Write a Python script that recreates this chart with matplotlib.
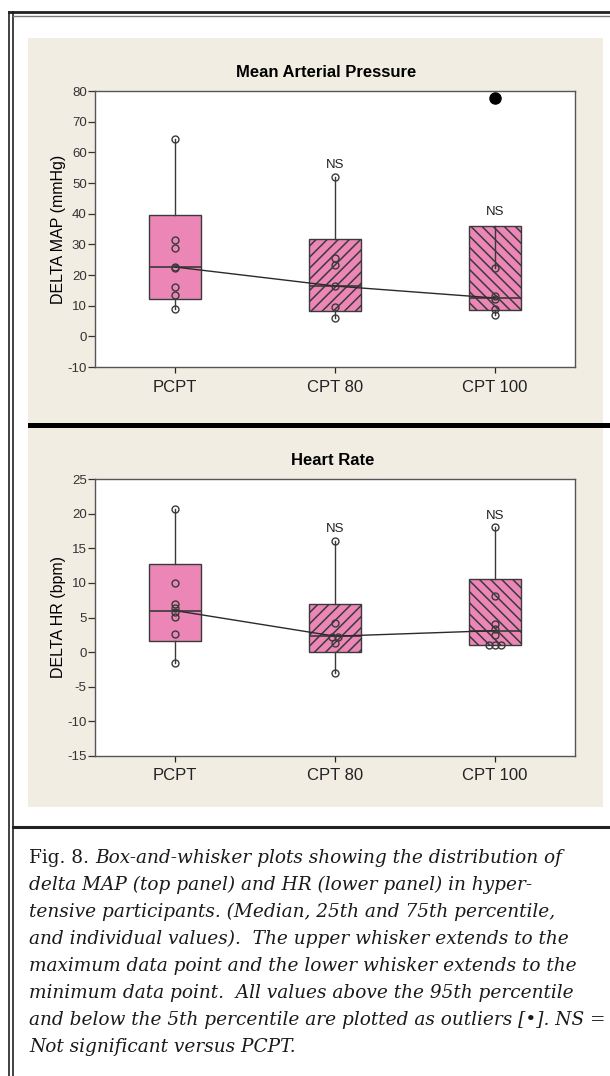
import matplotlib
matplotlib.use("Agg")
from matplotlib import pyplot as plt
from matplotlib.patches import Rectangle
from matplotlib.lines import Line2D

plt.rcParams['font.family'] = ['Liberation Sans', 'DejaVu Sans']
plt.rcParams['hatch.linewidth'] = 1.1
plt.rcParams['axes.unicode_minus'] = False

groups = ["PCPT", "CPT 80", "CPT 100"]

# delta MAP (mmHg): box stats per group
map_q1 = [12.2, 8.3, 8.6]
map_med = [22.6, 16.4, 12.5]
map_q3 = [39.6, 31.7, 36.0]
map_lo = [8.9, 5.9, 7.0]
map_hi = [64.3, 52.0, 22.3]
map_points = [[64.3, 31.4, 28.8, 22.6, 22.3, 16.1, 13.5, 8.9],
              [52.0, 25.5, 23.3, 16.5, 9.6, 5.9],
              [22.3, 13.0, 12.2, 9.0, 7.0]]
map_outliers = [[], [], [77.6]]
map_ns = [None, 56.0, 40.5]

# delta HR (bpm)
hr_q1 = [1.6, 0.0, 1.1]
hr_med = [6.0, 2.3, 3.1]
hr_q3 = [12.7, 7.0, 10.6]
hr_lo = [-1.5, -3.0, 1.0]
hr_hi = [20.6, 16.0, 18.0]
hr_points = [[20.6, 10.0, 7.0, 6.3, 5.8, 5.1, 2.6, -1.5],
             [16.0, 4.2, 2.2, 2.2, 1.3, -3.0],
             [18.0, 8.1, 4.0, 3.4, 2.5, 1.0, 1.0, 1.0]]
hr_outliers = [[], [], []]
hr_ns = [None, 17.8, 19.7]

caption_lines = [
    "delta MAP (top panel) and HR (lower panel) in hyper-",
    "tensive participants. (Median, 25th and 75th percentile,",
    "and individual values).  The upper whisker extends to the",
    "maximum data point and the lower whisker extends to the",
    "minimum data point.  All values above the 95th percentile",
    "and below the 5th percentile are plotted as outliers [\u2022]. NS =",
    "Not significant versus PCPT.",
]

PINK = "#ec86b7"
EDGE = "#3a3a3a"
hatches = [None, "///", "\\\\\\"]


def DrawPanel(ax, title, title_x, ylabel, q1, med, q3, lo, hi, points, outliers, ns,
              ylim, yticks):
    pos = [1, 2, 3]
    stats = []
    for i in range(3):
        stats.append({"q1": q1[i], "med": med[i], "q3": q3[i],
                      "whislo": lo[i], "whishi": hi[i], "fliers": []})
    bp = ax.bxp(stats, positions=pos, widths=0.33, patch_artist=True,
                showcaps=False, showfliers=False,
                boxprops=dict(facecolor=PINK, edgecolor=EDGE, linewidth=1.0),
                whiskerprops=dict(color=EDGE, linewidth=1.0),
                medianprops=dict(color=EDGE, linewidth=1.2))
    for patch, h in zip(bp["boxes"], hatches):
        if h:
            patch.set_hatch(h)
    for w in bp["whiskers"]:
        w.set_zorder(3)
    # line joining medians
    ax.plot(pos, med, color="#2a2a2a", linewidth=1.0, zorder=4)
    # individual values (equal values are set side by side)
    for i, vals in enumerate(points):
        seen = {}
        for v in vals:
            seen[v] = seen.get(v, 0) + 1
        done = {}
        for v in vals:
            n = seen[v]
            k = done.get(v, 0)
            done[v] = k + 1
            dx = 0.0 if n == 1 else (k - (n - 1) / 2.0) * 0.038
            ax.plot(pos[i] + dx, v, marker="o", markersize=5, mfc="none",
                    mec=EDGE, mew=1.0, linestyle="none", zorder=5)
        for v in outliers[i]:
            ax.plot(pos[i], v, marker="o", markersize=8, color="black",
                    linestyle="none", zorder=5)
        if ns[i] is not None:
            ax.text(pos[i], ns[i], "NS", ha="center", va="center",
                    fontsize=9.5, color="#222222")
    ax.set_xlim(0.5, 3.5)
    ax.set_ylim(*ylim)
    ax.set_yticks(yticks)
    ax.set_xticks(pos)
    ax.set_xticklabels(groups, fontsize=12)
    ax.tick_params(axis="y", labelsize=9.5, length=5, width=0.9, pad=1, colors="#333333")
    ax.tick_params(axis="x", length=4, width=0.9, pad=5, colors="#222222")
    ax.set_title(title, fontsize=12, fontweight="bold", pad=10, x=title_x)
    ax.set_ylabel(ylabel, fontsize=11.5, va="center")
    ax.yaxis.set_label_coords(-0.076, 0.5)
    ax.set_facecolor("white")
    for s in ax.spines.values():
        s.set_color("#555555")
        s.set_linewidth(1.0)


def main():
    fig = plt.figure(figsize=(6.1, 10.76), dpi=100)
    W, H = 610.0, 1076.0

    # beige panel behind the charts
    fig.patches.append(Rectangle((28 / W, 1 - 807 / H), 575 / W, 769 / H,
                                 transform=fig.transFigure, facecolor="#f1ede3",
                                 edgecolor="none", zorder=-2))
    # black separator between panels
    fig.patches.append(Rectangle((28 / W, 1 - 428 / H), 1 - 28 / W, 5 / H,
                                 transform=fig.transFigure, facecolor="black",
                                 edgecolor="none", zorder=-1))
    # frame lines
    for x in (9, 13):
        fig.lines.append(Line2D([x / W, x / W], [0, 1 - 12 / H], transform=fig.transFigure,
                                color="#333333", linewidth=1.3))
    fig.lines.append(Line2D([9 / W, 1], [1 - 12 / H, 1 - 12 / H], transform=fig.transFigure,
                            color="#222222", linewidth=2.0))
    fig.lines.append(Line2D([13 / W, 1], [1 - 16 / H, 1 - 16 / H], transform=fig.transFigure,
                            color="#777777", linewidth=1.0))
    fig.lines.append(Line2D([13 / W, 1], [1 - 827 / H, 1 - 827 / H], transform=fig.transFigure,
                            color="#222222", linewidth=2.2))

    ax1 = fig.add_axes([95 / W, 1 - 367 / H, 480 / W, 276 / H])
    DrawPanel(ax1, "Mean Arterial Pressure", 0.481, "DELTA MAP (mmHg)",
              map_q1, map_med, map_q3, map_lo, map_hi, map_points, map_outliers, map_ns,
              (-10, 80), range(-10, 81, 10))
    ax2 = fig.add_axes([95 / W, 1 - 756 / H, 480 / W, 277 / H])
    DrawPanel(ax2, "Heart Rate", 0.496, "DELTA HR (bpm)",
              hr_q1, hr_med, hr_q3, hr_lo, hr_hi, hr_points, hr_outliers, hr_ns,
              (-15, 25), range(-15, 26, 5))

    # caption
    serif = ["DejaVu Serif"]
    fs = 13.3
    x0 = 29 / W
    y0 = 1 - 858 / H
    step = 27 / H
    renderer = fig.canvas.get_renderer()
    t = fig.text(x0, y0, "Fig. 8. ", family=serif, fontsize=fs, va="center",
                 ha="left", color="#1a1a1a")
    bb = t.get_window_extent(renderer=renderer)
    fig.text(bb.x1 / W, y0, "Box-and-whisker plots showing the distribution of",
             family=serif, style="italic", fontsize=fs, va="center", ha="left",
             color="#1a1a1a")
    for i, line in enumerate(caption_lines):
        fig.text(x0, y0 - (i + 1) * step, line, family=serif, style="italic",
                 fontsize=fs, va="center", ha="left", color="#1a1a1a")

    fig.savefig("out.png", dpi=100)


if __name__ == "__main__":
    main()
